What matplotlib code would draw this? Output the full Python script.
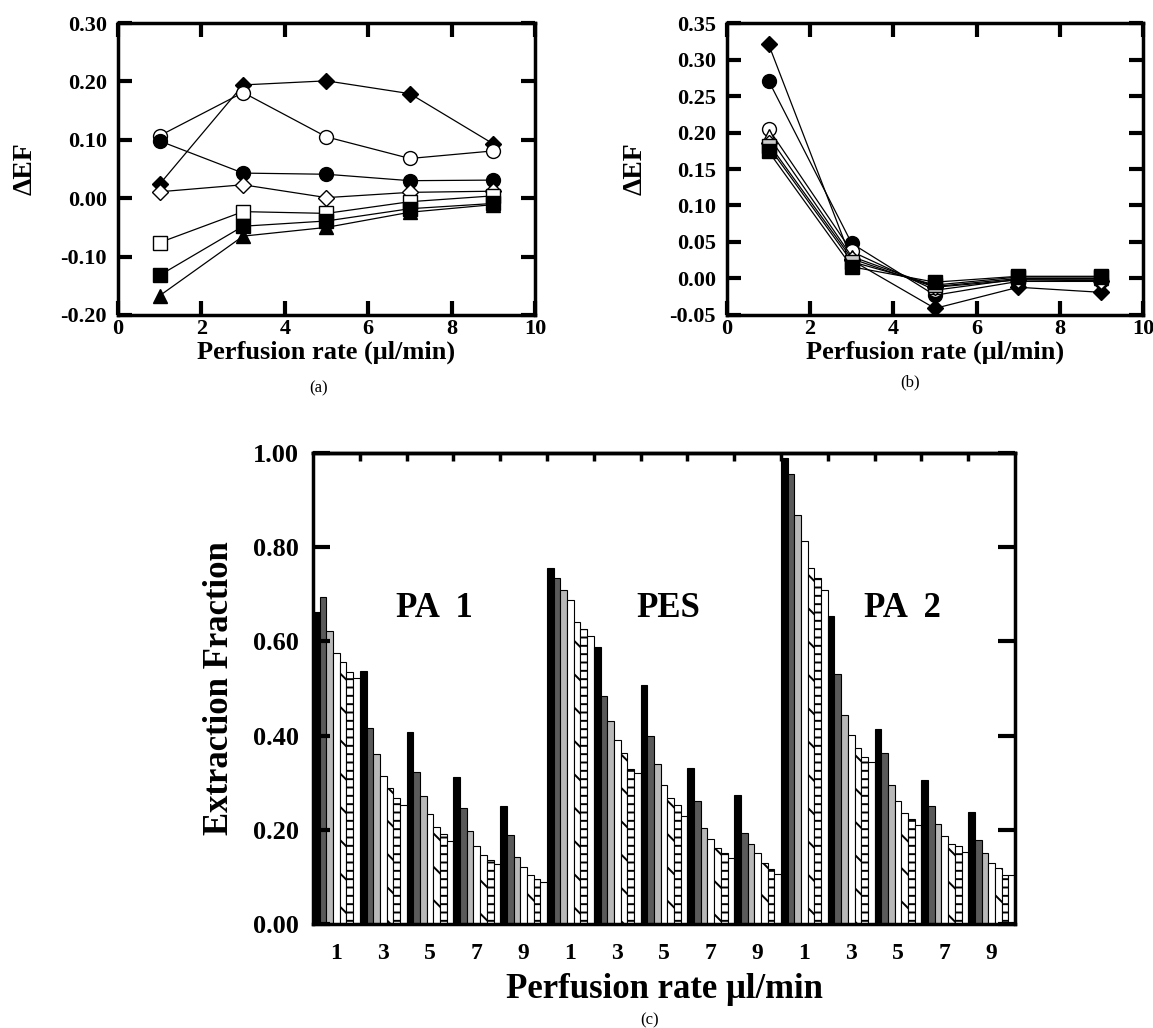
"""
plot.py

Extraction fraction vs perfusion rate: delta-EF panels (a), (b) and bar chart (c).
"""
import numpy as np
import matplotlib
matplotlib.use("Agg")
from matplotlib import pyplot as plt

plt.rcParams["font.family"] = ["Liberation Serif", "DejaVu Serif"]
plt.rcParams["font.weight"] = "bold"
plt.rcParams["hatch.linewidth"] = 1.4

rates = [1, 3, 5, 7, 9]

# panel (a): delta EF per marker series
a_filled_diamond = [0.024, 0.194, 0.201, 0.179, 0.093]
a_open_circle = [0.107, 0.181, 0.105, 0.068, 0.081]
a_filled_circle = [0.098, 0.043, 0.041, 0.030, 0.031]
a_open_diamond = [0.011, 0.023, 0.001, 0.010, 0.012]
a_open_square = [-0.076, -0.023, -0.026, -0.006, 0.004]
a_filled_square = [-0.132, -0.048, -0.039, -0.018, -0.009]
a_filled_triangle = [-0.167, -0.065, -0.050, -0.024, -0.011]

# panel (b)
b_filled_diamond = [0.321, 0.025, -0.041, -0.012, -0.019]
b_filled_circle = [0.271, 0.048, -0.023, -0.004, -0.004]
b_open_circle = [0.205, 0.037, -0.016, -0.001, -0.001]
b_open_triangle = [0.195, 0.030, -0.011, 0.000, 0.000]
b_open_diamond = [0.185, 0.027, -0.012, -0.002, -0.003]
b_open_square = [0.181, 0.023, -0.009, 0.002, 0.002]
b_filled_square = [0.174, 0.016, -0.005, 0.003, 0.003]

# panel (c): extraction fraction, one row per perfusion rate, 7 bars per row
materials = ["PA  1", "PES", "PA  2"]
ef_pa1 = [
    [0.662, 0.694, 0.621, 0.576, 0.557, 0.534, 0.523],
    [0.536, 0.415, 0.360, 0.315, 0.289, 0.268, 0.253],
    [0.408, 0.323, 0.272, 0.234, 0.206, 0.192, 0.177],
    [0.311, 0.247, 0.198, 0.166, 0.147, 0.135, 0.128],
    [0.251, 0.189, 0.143, 0.121, 0.104, 0.096, 0.089],
]
ef_pes = [
    [0.756, 0.734, 0.708, 0.687, 0.642, 0.626, 0.611],
    [0.587, 0.484, 0.430, 0.390, 0.364, 0.328, 0.321],
    [0.508, 0.400, 0.340, 0.295, 0.268, 0.253, 0.230],
    [0.332, 0.261, 0.204, 0.181, 0.162, 0.150, 0.141],
    [0.274, 0.194, 0.170, 0.150, 0.130, 0.117, 0.106],
]
ef_pa2 = [
    [0.990, 0.955, 0.868, 0.813, 0.755, 0.734, 0.708],
    [0.654, 0.531, 0.443, 0.401, 0.374, 0.355, 0.343],
    [0.413, 0.364, 0.294, 0.261, 0.236, 0.222, 0.210],
    [0.306, 0.251, 0.213, 0.187, 0.170, 0.166, 0.153],
    [0.238, 0.179, 0.151, 0.129, 0.119, 0.104, 0.103],
]

bar_styles = [
    dict(color="black"),
    dict(color="#5a5a5a"),
    dict(color="#b8b8b8"),
    dict(color="white"),
    dict(color="white", hatch="\\"),
    dict(color="white", hatch="--"),
    dict(color="white"),
]


def style_axes(ax, width=2.5):
    """Heavy frame with inward ticks on all sides."""
    for spine in ax.spines.values():
        spine.set_linewidth(width)
    ax.tick_params(direction="in", length=10, width=3, top=True, right=True)
    ax.tick_params(axis="x", pad=3)
    ax.tick_params(axis="y", pad=8)


def line_panel(ax, series):
    for values, marker, face in series:
        ax.plot(rates, values, color="black", linewidth=0.9, marker=marker,
                markersize=10 if marker != "D" else 8, markerfacecolor=face,
                markeredgecolor="black", markeredgewidth=1.0)
    ax.set_xlim(0, 10)
    ax.set_xticks(np.arange(0, 11, 2))
    style_axes(ax)
    for lab in ax.get_xticklabels():
        lab.set_fontsize(16)
        lab.set_fontweight("bold")
    ax.set_xlabel("Perfusion rate (μl/min)", fontsize=19, fontweight="bold",
                  labelpad=1)
    ax.set_ylabel("ΔEF", fontsize=20, fontweight="bold", labelpad=16)


fig = plt.figure(figsize=(11.53, 10.28), dpi=100)

# panel (a)
ax_a = fig.add_axes([0.1023, 0.6936, 0.3617, 0.284])
line_panel(ax_a, [
    (a_filled_diamond, "D", "black"),
    (a_open_circle, "o", "white"),
    (a_filled_circle, "o", "black"),
    (a_open_diamond, "D", "white"),
    (a_open_square, "s", "white"),
    (a_filled_square, "s", "black"),
    (a_filled_triangle, "^", "black"),
])
ax_a.set_ylim(-0.2, 0.3)
ax_a.set_yticks(np.arange(-0.2, 0.31, 0.1))
ax_a.set_yticklabels([f"{v:.2f}" for v in np.arange(-0.2, 0.31, 0.1)],
                     fontsize=16, fontweight="bold")
ax_a.text(0.48, -0.25, "(a)", transform=ax_a.transAxes, ha="center",
          va="center", fontsize=12, fontweight="normal")

# panel (b)
ax_b = fig.add_axes([0.6305, 0.6936, 0.3608, 0.284])
line_panel(ax_b, [
    (b_filled_diamond, "D", "black"),
    (b_filled_circle, "o", "black"),
    (b_open_circle, "o", "white"),
    (b_open_triangle, "^", "white"),
    (b_open_diamond, "D", "white"),
    (b_open_square, "s", "#cccccc"),
    (b_filled_square, "s", "black"),
])
ax_b.set_ylim(-0.05, 0.35)
ax_b.set_yticks(np.arange(-0.05, 0.351, 0.05))
ax_b.set_yticklabels([f"{v:.2f}" for v in np.arange(-0.05, 0.351, 0.05)],
                     fontsize=16, fontweight="bold")
ax_b.text(0.44, -0.23, "(b)", transform=ax_b.transAxes, ha="center",
          va="center", fontsize=12, fontweight="normal")

# panel (c)
ax_c = fig.add_axes([0.2715, 0.1012, 0.6088, 0.4582])
groups = [ef_pa1, ef_pes, ef_pa2]
n_bars = len(bar_styles)
bar_w = 1.0 / n_bars
centers = []
for m, data in enumerate(groups):
    for r, row in enumerate(data):
        g = m * len(rates) + r
        centers.append(g + 0.5)
        for j, val in enumerate(row):
            ax_c.bar(g + (j + 0.5) * bar_w, val, width=bar_w,
                     edgecolor="black", linewidth=0.8, **bar_styles[j])

ax_c.set_xlim(0, len(centers))
ax_c.set_ylim(0, 1.0)
ax_c.set_yticks(np.arange(0, 1.01, 0.2))
ax_c.set_yticklabels([f"{v:.2f}" for v in np.arange(0, 1.01, 0.2)],
                     fontsize=19, fontweight="bold")
ax_c.set_xticks(centers)
ax_c.set_xticklabels([str(r) for r in rates] * len(materials), fontsize=17,
                     fontweight="bold")
for spine in ax_c.spines.values():
    spine.set_linewidth(2.5)
ax_c.tick_params(axis="y", direction="in", length=12, width=3, right=True,
                 pad=10)
ax_c.tick_params(axis="x", length=0, pad=14)
top = ax_c.secondary_xaxis("top")
top.set_xticks(np.arange(1, len(centers)))
top.tick_params(direction="in", length=6, width=2.5, labeltop=False)
top.spines["top"].set_linewidth(2.5)

for m, name in enumerate(materials):
    ax_c.text(m * 5 + 2.6, 0.67, name, ha="center", va="center", fontsize=25,
              fontweight="bold")

ax_c.set_xlabel("Perfusion rate μl/min", fontsize=25, fontweight="bold",
                labelpad=6)
ax_c.set_ylabel("Extraction Fraction", fontsize=25, fontweight="bold",
                labelpad=12)
ax_c.text(0.48, -0.205, "(c)", transform=ax_c.transAxes, ha="center",
          va="center", fontsize=12, fontweight="normal")

fig.savefig("out.png", dpi=100)
